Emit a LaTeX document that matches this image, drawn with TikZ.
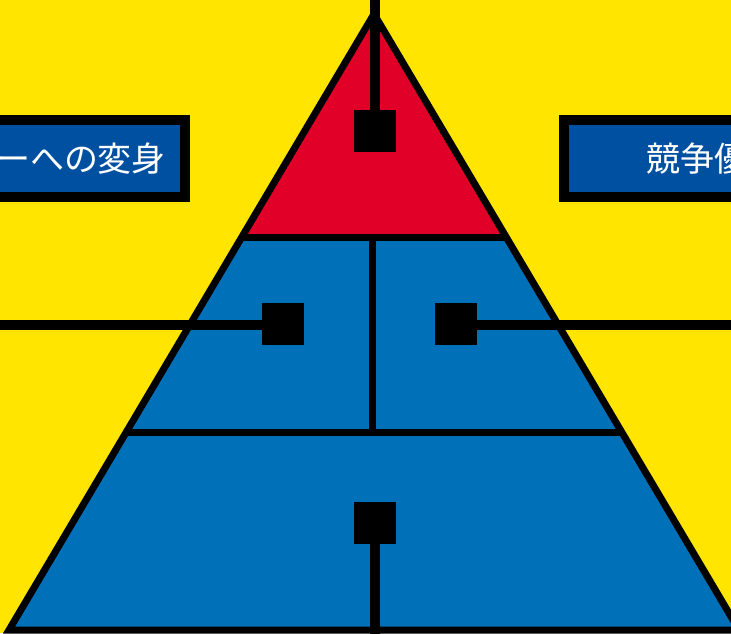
\documentclass[tikz,border=0pt]{standalone}
\usepackage{fontspec}
\newfontfamily\jp{Noto Sans CJK JP}
\definecolor{bgyellow}{HTML}{FFE500}
\definecolor{topred}{HTML}{E00028}
\definecolor{pyblue}{HTML}{0071B9}
\definecolor{lblblue}{HTML}{0050A2}
\tikzset{
  outline/.style={draw=black, line width=7pt, line join=miter},
  divider/.style={draw=black, line width=7pt},
  conn/.style={draw=black, line width=10pt},
  marker/.style={fill=black, minimum size=42pt, inner sep=0pt, rectangle},
  lblbox/.style={draw=black, fill=lblblue, line width=10pt, minimum height=77.5pt,
    text=white, font=\jp\fontsize{34pt}{37pt}\selectfont},
}
\begin{document}
\begin{tikzpicture}[x=1pt,y=-1pt]
\useasboundingbox (0,0) rectangle (731,633);
\clip (0,0) rectangle (731,633);
\fill[bgyellow] (0,0) rectangle (731,633);
% pyramid corners
\coordinate (A) at (374,14);
\coordinate (BL) at (9,630);
\coordinate (BR) at (739,630);
\coordinate (L1) at (241.8,237);
\coordinate (R1) at (506.2,237);
\coordinate (L2) at (126.1,432);
\coordinate (R2) at (621.9,432);
\coordinate (D1) at (372,237);
\coordinate (D2) at (372,432);
\fill[pyblue] (A) -- (BL) -- (BR) -- cycle;
\fill[topred] (A) -- (L1) -- (R1) -- cycle;
\draw[divider] (L1) -- (R1);
\draw[divider] (L2) -- (R2);
\draw[divider] (D1) -- (D2);
\draw[outline] (A) -- (BL) -- (BR) -- cycle;
% markers
\node[marker] (s1) at (375,131) {};
\node[marker] (s2) at (283,324) {};
\node[marker] (s3) at (456,324) {};
\node[marker] (s4) at (375,523) {};
\coordinate (t) at (375,-10);
\coordinate (ml) at (-10,325);
\coordinate (mr) at (741,325);
\coordinate (b) at (375,643);
\draw[conn] (t) -- (s1.north);
\draw[conn] (ml) -- (s2.west |- ml);
\draw[conn] (s3.east |- mr) -- (mr);
\draw[conn] (s4.south) -- (b);
% labels
\node[lblbox, anchor=east, inner xsep=19pt] (lab1) at (190,158.5) {ーへの変身};
\node[lblbox, anchor=west, inner xsep=82pt] (lab2) at (559,158.5) {競争優};
\end{tikzpicture}
\end{document}
